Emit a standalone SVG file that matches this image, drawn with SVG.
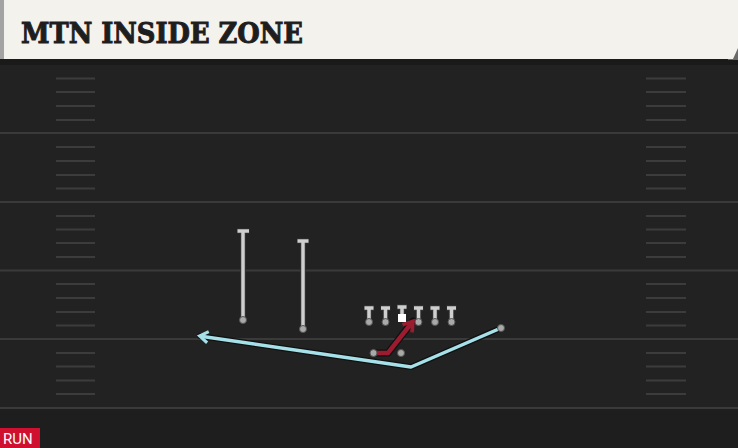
<svg xmlns="http://www.w3.org/2000/svg" width="738" height="448" viewBox="0 0 738 448">
<style>
.yard{stroke:#3a3a3a;stroke-width:2}
.hash{stroke:#3c3c3c;stroke-width:2}
.rt{fill:none;stroke:#111;stroke-width:6;stroke-linecap:round;stroke-linejoin:round}
.wr{stroke:#cfcfcf;stroke-width:3.5}
.dot{fill:#a9a9a9;stroke:#555;stroke-width:1}
.title{font-family:"DejaVu Serif",serif;font-weight:bold;font-size:28px;fill:#1e1e1e;stroke:#1e1e1e;stroke-width:1}
</style>
<defs>
<marker id="ab" viewBox="0 0 10 10" refX="6" refY="5" markerWidth="4" markerHeight="4" orient="auto" markerUnits="strokeWidth">
<path d="M1,1 L7,5 L1,9" fill="none" stroke="#a6e1ea" stroke-width="2.2"/>
</marker>
<marker id="ar" viewBox="0 0 10 10" refX="6" refY="5" markerWidth="3.4" markerHeight="3.4" orient="auto" markerUnits="strokeWidth">
<path d="M1,1 L7,5 L1,9" fill="none" stroke="#9b1b30" stroke-width="2.4"/>
</marker>
</defs>
<rect width="738" height="448" fill="#222222"/>
<rect y="408" width="738" height="40" fill="#1e1e1e"/>
<g id="field">
<line class="yard" x1="0" y1="133" x2="738" y2="133"/>
<line class="yard" x1="0" y1="202" x2="738" y2="202"/>
<line class="yard" x1="0" y1="270.5" x2="738" y2="270.5"/>
<line class="yard" x1="0" y1="339" x2="738" y2="339"/>
<line class="yard" x1="0" y1="408" x2="738" y2="408"/>
<g class="hash">
<path d="M56 78.5H95M56 92H95M56 106H95M56 120H95M56 147H95M56 161H95M56 175H95M56 188.5H95M56 216H95M56 229.5H95M56 243H95M56 257H95M56 284H95M56 298H95M56 312H95M56 325.5H95M56 353H95M56 366.5H95M56 380.5H95M56 394H95"/>
<path d="M646 78.5H686M646 92H686M646 106H686M646 120H686M646 147H686M646 161H686M646 175H686M646 188.5H686M646 216H686M646 229.5H686M646 243H686M646 257H686M646 284H686M646 298H686M646 312H686M646 325.5H686M646 353H686M646 366.5H686M646 380.5H686M646 394H686"/>
</g>
</g>
<g id="header">
<rect y="0" width="738" height="65" fill="#1a1a1a"/>
<rect x="728" y="44" width="10" height="16" fill="#6a6a6a"/>
<polygon points="0,0 738,0 738,48 733,59 0,59" fill="#f4f2ec"/>
<rect x="0" y="0" width="4" height="59" fill="#a3a3a3"/>
<text class="title" x="21" y="42.5" textLength="282" lengthAdjust="spacingAndGlyphs">MTN INSIDE ZONE</text>
</g>
<g id="connectors">
<polyline class="rt" points="501,328 411,367 200,336"/>
<polyline points="501,328 411,367 201,336.2" fill="none" stroke="#a6e1ea" stroke-width="3.5" stroke-linejoin="round" marker-end="url(#ab)"/>
<polyline class="rt" points="375,353 388,353 413,321" style="stroke-width:7"/>
<polyline points="375,353 388,353 412,322.5" fill="none" stroke="#9b1b30" stroke-width="4.5" stroke-linejoin="miter" marker-end="url(#ar)"/>
</g>
<g id="wr1">
<line x1="243" y1="231" x2="243" y2="320" stroke="#333" stroke-width="5.5"/>
<line x1="237" y1="231" x2="249.5" y2="231" stroke="#333" stroke-width="5"/>
<line class="wr" x1="243" y1="231" x2="243" y2="320"/>
<line class="wr" x1="237.5" y1="231" x2="249" y2="231"/>
<circle class="dot" cx="243" cy="320" r="3.5"/>
</g>
<g id="wr2">
<line x1="303" y1="241" x2="303" y2="329" stroke="#333" stroke-width="5.5"/>
<line x1="297" y1="241" x2="309" y2="241" stroke="#333" stroke-width="5"/>
<line class="wr" x1="303" y1="241" x2="303" y2="329"/>
<line class="wr" x1="297.5" y1="241" x2="308.5" y2="241"/>
<circle class="dot" cx="303" cy="329" r="3.5"/>
</g>
<g id="line">
<g id="ol1"><path d="M369 308v14M364 308h10" stroke="#333" stroke-width="5.5"/><path d="M369 308v14M364.5 308h9" stroke="#cfcfcf" stroke-width="3.5"/><circle class="dot" cx="369" cy="322" r="3.5"/></g>
<g id="ol2"><path d="M385.5 308v14M380.5 308h10" stroke="#333" stroke-width="5.5"/><path d="M385.5 308v14M381 308h9" stroke="#cfcfcf" stroke-width="3.5"/><circle class="dot" cx="385.5" cy="322" r="3.5"/></g>
<g id="center"><path d="M402 307v8M397 307h10" stroke="#333" stroke-width="5.5"/><path d="M402 307v8M397.5 307h9" stroke="#cfcfcf" stroke-width="3.5"/><rect x="398" y="314" width="8" height="8" fill="#ffffff"/></g>
<g id="ol4"><path d="M418.5 308v14M413.5 308h10" stroke="#333" stroke-width="5.5"/><path d="M418.5 308v14M414 308h9" stroke="#cfcfcf" stroke-width="3.5"/><circle class="dot" cx="418.5" cy="322" r="3.5"/></g>
<g id="ol5"><path d="M435 308v14M430 308h10" stroke="#333" stroke-width="5.5"/><path d="M435 308v14M430.5 308h9" stroke="#cfcfcf" stroke-width="3.5"/><circle class="dot" cx="435" cy="322" r="3.5"/></g>
<g id="te"><path d="M451.5 308v14M446.5 308h10" stroke="#333" stroke-width="5.5"/><path d="M451.5 308v14M447 308h9" stroke="#cfcfcf" stroke-width="3.5"/><circle class="dot" cx="451.5" cy="322" r="3.5"/></g>
</g>
<g id="rb"><circle class="dot" cx="373.5" cy="353" r="3.5"/></g>
<g id="qb"><circle class="dot" cx="401" cy="353" r="3.5"/></g>
<g id="wr3"><circle class="dot" cx="501" cy="328" r="3.5"/></g>
<g id="label">
<rect x="0" y="428" width="40" height="20" fill="#d0102f"/>
<text x="3" y="444" font-family="Roboto,'Liberation Sans',sans-serif" font-size="15" fill="#ffffff">RUN</text>
</g>
</svg>
